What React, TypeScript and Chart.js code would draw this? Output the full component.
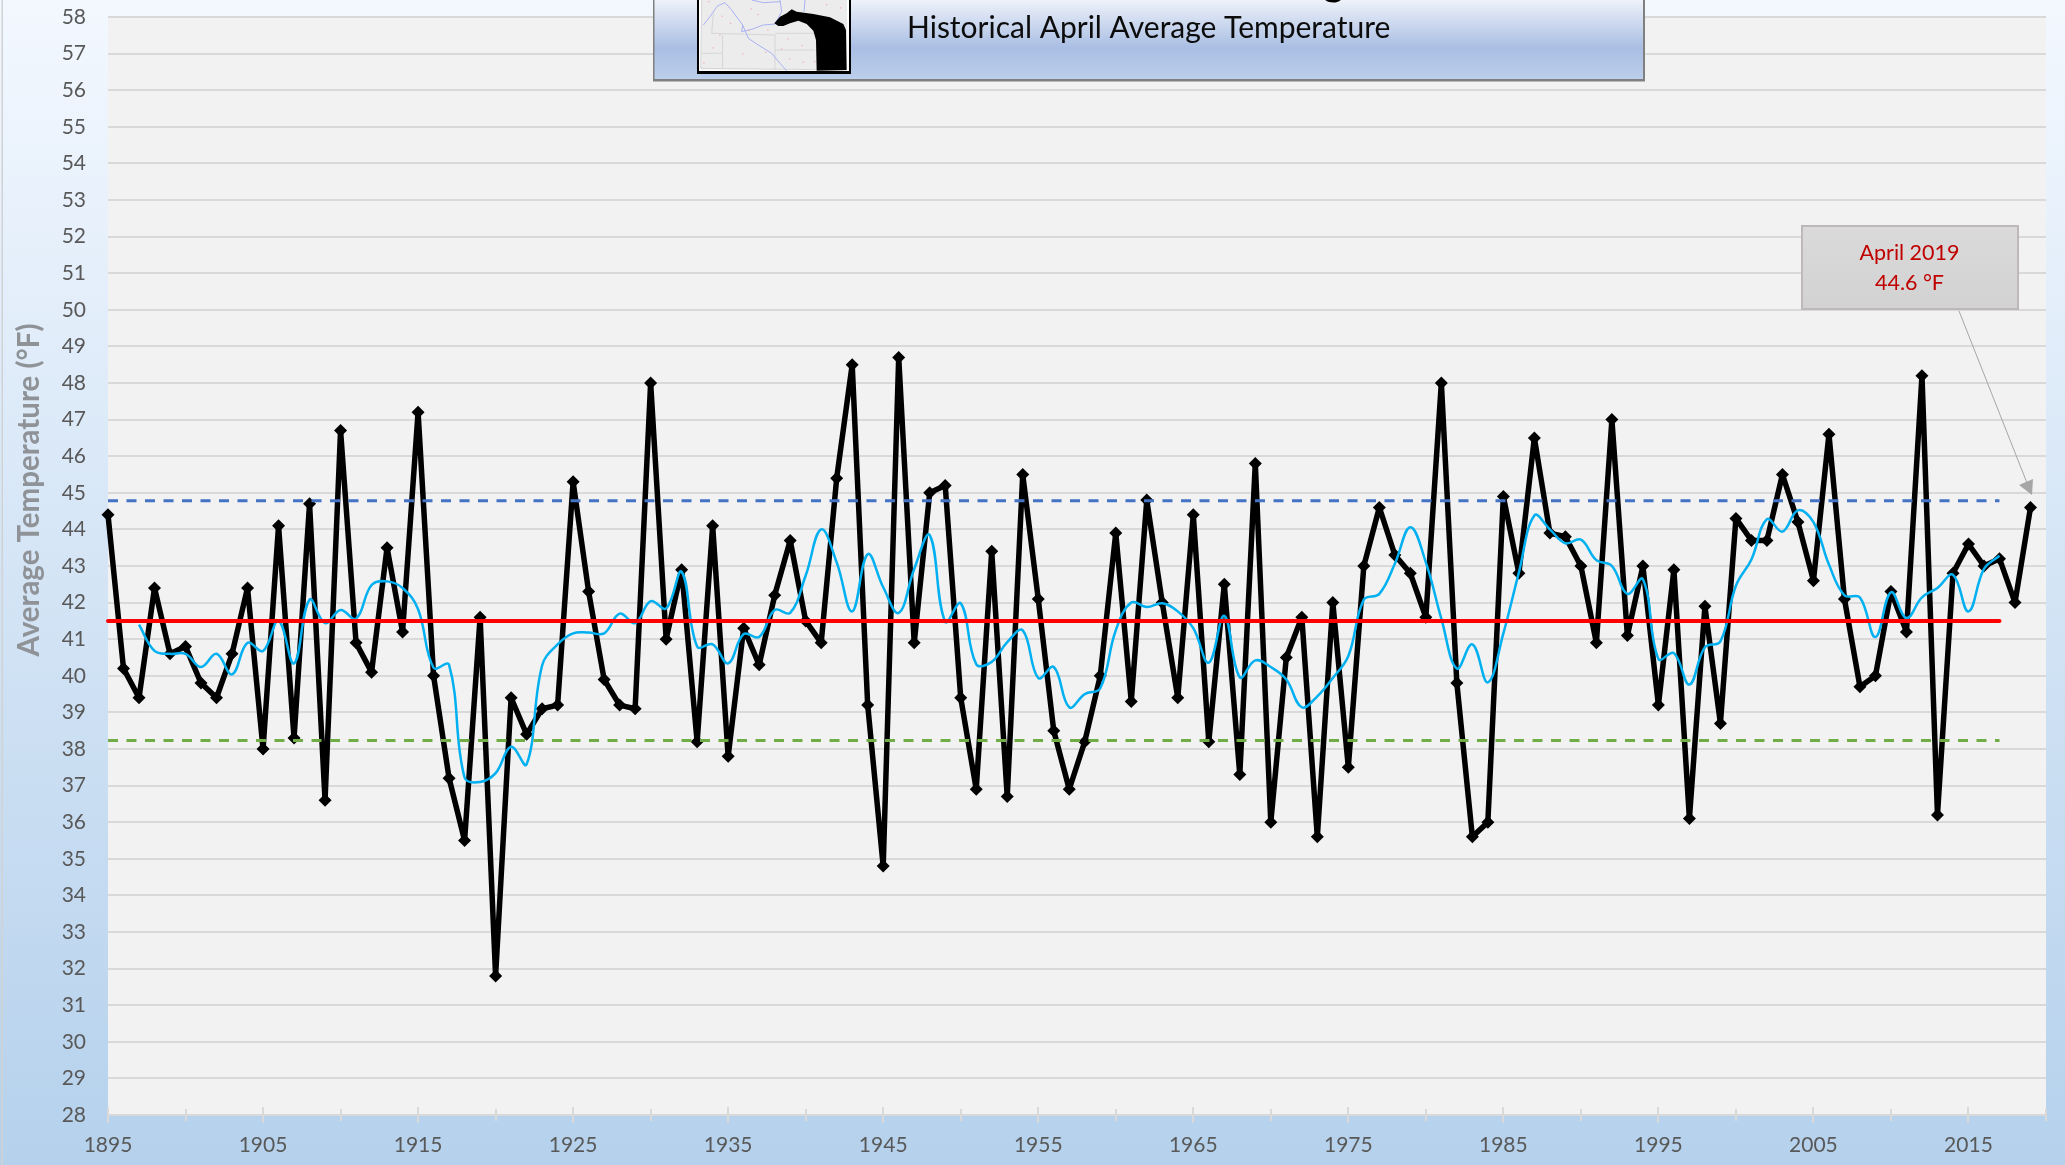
import React, { useEffect, useRef } from "react";
import { Chart, registerables } from "chart.js";

Chart.register(...registerables);

const FONT = "Lato";

const april: number[] = [
  44.4, 40.2, 39.4, 42.4, 40.6, 40.8, 39.8, 39.4, 40.6, 42.4,
  38.0, 44.1, 38.3, 44.7, 36.6, 46.7, 40.9, 40.1, 43.5, 41.2,
  47.2, 40.0, 37.2, 35.5, 41.6, 31.8, 39.4, 38.4, 39.1, 39.2,
  45.3, 42.3, 39.9, 39.2, 39.1, 48.0, 41.0, 42.9, 38.2, 44.1,
  37.8, 41.3, 40.3, 42.2, 43.7, 41.5, 40.9, 45.4, 48.5, 39.2,
  34.8, 48.7, 40.9, 45.0, 45.2, 39.4, 36.9, 43.4, 36.7, 45.5,
  42.1, 38.5, 36.9, 38.2, 40.0, 43.9, 39.3, 44.8, 42.0, 39.4,
  44.4, 38.2, 42.5, 37.3, 45.8, 36.0, 40.5, 41.6, 35.6, 42.0,
  37.5, 43.0, 44.6, 43.3, 42.8, 41.6, 48.0, 39.8, 35.6, 36.0,
  44.9, 42.8, 46.5, 43.9, 43.8, 43.0, 40.9, 47.0, 41.1, 43.0,
  39.2, 42.9, 36.1, 41.9, 38.7, 44.3, 43.7, 43.7, 45.5, 44.2,
  42.6, 46.6, 42.1, 39.7, 40.0, 42.3, 41.2, 48.2, 36.2, 42.8,
  43.6, 43.0, 43.2, 42.0, 44.6,
];

// Smoothed curve, 1897 to 2017
const smoothed: number[] = [
  41.4, 40.68, 40.6, 40.6, 40.24, 40.6, 40.04, 40.9, 40.68, 41.5,
  40.34, 42.08, 41.44, 41.8, 41.56, 42.48, 42.58, 42.4, 41.82, 40.22,
  40.3, 37.22, 37.1, 37.34, 38.06, 37.58, 40.28, 40.86, 41.16, 41.18,
  41.16, 41.7, 41.44, 42.04, 41.84, 42.84, 40.8, 40.86, 40.34, 41.14,
  41.06, 41.8, 41.72, 42.74, 44.0, 43.1, 41.76, 43.32, 42.42, 41.72,
  42.92, 43.84, 41.48, 41.98, 40.32, 40.38, 40.92, 41.24, 39.94, 40.24,
  39.14, 39.5, 39.66, 41.24, 42.0, 41.88, 41.98, 41.76, 41.3, 40.36,
  41.64, 39.96, 40.42, 40.24, 39.9, 39.14, 39.44, 39.94, 40.54, 42.08,
  42.24, 43.06, 44.06, 43.1, 41.56, 40.2, 40.86, 39.82, 41.16, 42.82,
  44.38, 44.0, 43.62, 43.72, 43.16, 43.0, 42.24, 42.64, 40.46, 40.62,
  39.76, 40.78, 40.94, 42.46, 43.18, 44.28, 43.94, 44.52, 44.2, 43.04,
  42.2, 42.14, 41.06, 42.28, 41.58, 42.14, 42.4, 42.76, 41.76, 42.92,
  43.28,
];

const firstYear = 1895;
const smoothFirstYear = 1897;
const refYears = [1895, 2017];
const meanValue = [41.5, 41.5];
const upperValue = [44.78, 44.78];
const lowerValue = [38.23, 38.23];

const xMin = 1895;
const xMax = 2020;
const yMin = 28;
const yMax = 58;

const chartSubtitle = "Historical April Average Temperature";
const yTitle = "Average Temperature (°F)";
const calloutLines = ["April 2019", "44.6 °F"];

const series = (start: number, vals: number[]) => vals.map((y, i) => ({ x: start + i, y }));
const refSeries = (vals: number[]) => vals.map((y, i) => ({ x: refYears[i], y }));

function poly(ctx: CanvasRenderingContext2D, pts: number[][]) {
  ctx.beginPath();
  pts.forEach(([zx, zy], i) => {
    const x = 680 + zx / 3;
    const y = zy / 3;
    if (i === 0) ctx.moveTo(x, y);
    else ctx.lineTo(x, y);
  });
}

const decoration = {
  id: "decoration",
  beforeDraw(chart: any) {
    const { ctx, chartArea, width, height } = chart;
    ctx.save();
    const g = ctx.createLinearGradient(0, 0, 0, height);
    g.addColorStop(0, "#f3f8ff");
    g.addColorStop(1, "#b5d1ec");
    ctx.fillStyle = g;
    ctx.fillRect(0, 0, width, height);
    ctx.fillStyle = "#d0d2d4";
    ctx.fillRect(1.5, 0, 1.5, height);
    ctx.fillStyle = "#f2f2f2";
    ctx.fillRect(chartArea.left, chartArea.top, chartArea.right - chartArea.left, chartArea.bottom - chartArea.top);
    ctx.restore();
  },
  afterDraw(chart: any) {
    const { ctx, scales } = chart;
    const x = scales.x;
    ctx.save();

    // axis line with crossing tick marks
    const axisY = scales.y.getPixelForValue(yMin);
    ctx.fillStyle = "#d9d9d9";
    ctx.fillRect(x.left, axisY - 1, x.right - x.left, 2);
    x.ticks.forEach((t: any) => {
      const px = Math.round(x.getPixelForValue(t.value));
      const major = (t.value - xMin) % 10 === 0;
      ctx.fillRect(px - 1, axisY - (major ? 8 : 6), 2, major ? 16 : 12);
    });

    // rotated axis title
    ctx.save();
    ctx.translate(38.5, 490);
    ctx.rotate(-Math.PI / 2);
    ctx.font = `bold 29.5px ${FONT}`;
    ctx.fillStyle = "#8f9398";
    ctx.textAlign = "center";
    ctx.textBaseline = "alphabetic";
    ctx.fillText(yTitle, 0, 0);
    ctx.restore();

    // title banner
    const bg = ctx.createLinearGradient(0, 0, 0, 80);
    bg.addColorStop(0, "#eef2fa");
    bg.addColorStop(0.6, "#a9bee3");
    bg.addColorStop(1, "#bccfeb");
    ctx.fillStyle = bg;
    ctx.fillRect(653, 0, 992, 80);
    ctx.fillStyle = "#808080";
    ctx.fillRect(653, 0, 1.5, 81);
    ctx.fillRect(1643, 0, 2, 81);
    ctx.fillRect(653, 79, 992, 2.5);

    ctx.fillStyle = "#000";
    ctx.font = `bold 40px ${FONT}`;
    ctx.textAlign = "center";
    ctx.textBaseline = "alphabetic";
    ctx.fillText("g", 1333.5, -5);

    ctx.font = `30px ${FONT}`;
    ctx.textAlign = "left";
    ctx.fillStyle = "#0c0c0c";
    ctx.fillText(chartSubtitle, 907, 38);

    // small map
    ctx.fillStyle = "#000";
    ctx.fillRect(697, 0, 154, 74);
    ctx.fillStyle = "#fff";
    ctx.fillRect(699, 0, 150, 71);
    ctx.fillStyle = "#ececec";
    ctx.fillRect(701, 0, 146, 69.5);
    ctx.lineWidth = 1;
    ctx.strokeStyle = "#d6d6d6";
    [
      [[65, 0], [62, 205], [500, 210]],
      [[65, 160], [128, 160], [128, 205]],
      [[100, 40], [95, 100], [285, 105], [285, 210]],
      [[128, 105], [128, 160]],
      [[285, 100], [410, 100]],
      [[285, 150], [405, 150]],
    ].forEach((p) => {
      poly(ctx, p);
      ctx.stroke();
    });
    ctx.strokeStyle = "#a9b2f2";
    ctx.lineWidth = 1;
    [
      [[70, 75], [90, 50], [112, 18], [135, 8], [155, 30], [188, 75], [205, 115], [235, 135], [275, 160], [300, 190], [320, 212]],
      [[188, 75], [185, 95], [215, 88], [250, 75], [285, 72], [305, 35], [300, 0]],
      [[215, 0], [250, 8], [300, 5]],
      [[375, 0], [372, 35]],
    ].forEach((p) => {
      poly(ctx, p);
      ctx.stroke();
    });
    ctx.fillStyle = "#f4a8a8";
    [[85, 3], [125, 47], [150, 68], [212, 25], [232, 42], [262, 88], [205, 90], [97, 142], [187, 160], [255, 155], [303, 145], [327, 175], [368, 185], [322, 115], [365, 135], [402, 183], [438, 12], [480, 22], [118, 103], [70, 187]].forEach(([zx, zy]) => {
      ctx.fillRect(680 + zx / 3, zy / 3, 1.2, 1.2);
    });
    ctx.fillStyle = "#000";
    poly(ctx, [[283, 70], [300, 50], [320, 40], [335, 28], [350, 35], [400, 42], [450, 52], [490, 72], [498, 90], [500, 210], [410, 212], [408, 120], [400, 92], [380, 72], [355, 62], [330, 70], [310, 78], [295, 78]]);
    ctx.closePath();
    ctx.fill();

    // callout
    const cg = ctx.createLinearGradient(0, 226, 0, 309);
    cg.addColorStop(0, "#dadada");
    cg.addColorStop(1, "#d2d2d2");
    ctx.fillStyle = cg;
    ctx.fillRect(1802, 226, 216, 83);
    ctx.strokeStyle = "#bdb9b9";
    ctx.lineWidth = 2;
    ctx.strokeRect(1802, 226, 216, 83);
    ctx.fillStyle = "#c00000";
    ctx.font = `21.5px ${FONT}`;
    ctx.textAlign = "center";
    ctx.textBaseline = "middle";
    ctx.fillText(calloutLines[0], 1909.5, 253.5);
    ctx.fillText(calloutLines[1], 1909.5, 283.5);

    // callout arrow
    ctx.strokeStyle = "#a6a6a6";
    ctx.lineWidth = 1;
    ctx.beginPath();
    ctx.moveTo(1959, 311);
    ctx.lineTo(2029, 488);
    ctx.stroke();
    ctx.fillStyle = "#a6a6a6";
    ctx.beginPath();
    ctx.moveTo(2032, 495);
    ctx.lineTo(2019, 485);
    ctx.lineTo(2033, 479);
    ctx.closePath();
    ctx.fill();
    ctx.restore();
  },
};

export default function App() {
  const ref = useRef<HTMLCanvasElement | null>(null);
  useEffect(() => {
    const tickColor = "#595959";
    const chart = new Chart(ref.current as HTMLCanvasElement, {
      type: "line",
      plugins: [decoration],
      data: {
        datasets: [
          {
            label: "Mean",
            data: refSeries(meanValue),
            borderColor: "#ff0000",
            borderWidth: 4,
            pointRadius: 0,
            order: 1,
            clip: false,
            borderCapStyle: "round",
          },
          {
            label: "Upper",
            data: refSeries(upperValue),
            borderColor: "#4472c4",
            borderWidth: 3,
            borderDash: [10, 8.5],
            pointRadius: 0,
            order: 2,
          },
          {
            label: "Lower",
            data: refSeries(lowerValue),
            borderColor: "#70ad47",
            borderWidth: 3,
            borderDash: [10, 8.5],
            pointRadius: 0,
            order: 3,
          },
          {
            label: "Smoothed",
            data: series(smoothFirstYear, smoothed),
            borderColor: "#00b0f0",
            borderWidth: 2.5,
            pointRadius: 0,
            tension: 0.4,
            order: 4,
          },
          {
            label: "April average",
            data: series(firstYear, april),
            borderColor: "#000000",
            backgroundColor: "#000000",
            borderWidth: 5.5,
            borderJoinStyle: "round",
            pointStyle: "rectRot",
            pointRadius: 6.5,
            pointBorderWidth: 0,
            pointBackgroundColor: "#000000",
            tension: 0,
            order: 5,
            clip: false,
          },
        ],
      },
      options: {
        responsive: false,
        animation: false,
        events: [],
        layout: { padding: { top: 17, right: 19, left: 0, bottom: 0 } },
        plugins: {
          legend: { display: false },
          tooltip: { enabled: false },
          title: { display: false },
        },
        scales: {
          x: {
            type: "linear",
            min: xMin,
            max: xMax,
            afterFit: (s: any) => {
              s.height = 50;
              s.paddingLeft = 0;
              s.paddingRight = 0;
            },
            grid: { display: false, drawTicks: false },
            border: { display: false },
            ticks: {
              stepSize: 5,
              autoSkip: false,
              maxRotation: 0,
              minRotation: 0,
              color: tickColor,
              padding: 18,
              font: { family: FONT, size: 21 },
              callback: (v: any) => ((Number(v) - xMin) % 10 === 0 ? String(v) : ""),
            },
          },
          y: {
            type: "linear",
            min: yMin,
            max: yMax,
            afterFit: (s: any) => {
              s.width = 108;
              s.paddingTop = 0;
              s.paddingBottom = 0;
            },
            grid: { color: "#d9d9d9", lineWidth: 2, drawTicks: false },
            border: { display: false },
            ticks: {
              stepSize: 1,
              autoSkip: false,
              color: tickColor,
              padding: 22,
              font: { family: FONT, size: 21 },
            },
          },
        },
      },
    } as any);
    return () => chart.destroy();
  }, []);
  return (
    <div style={{ position: "fixed", left: 0, top: 0, width: 2065, height: 1165 }}>
      <canvas ref={ref} width={2065} height={1165} style={{ display: "block" }} />
    </div>
  );
}
